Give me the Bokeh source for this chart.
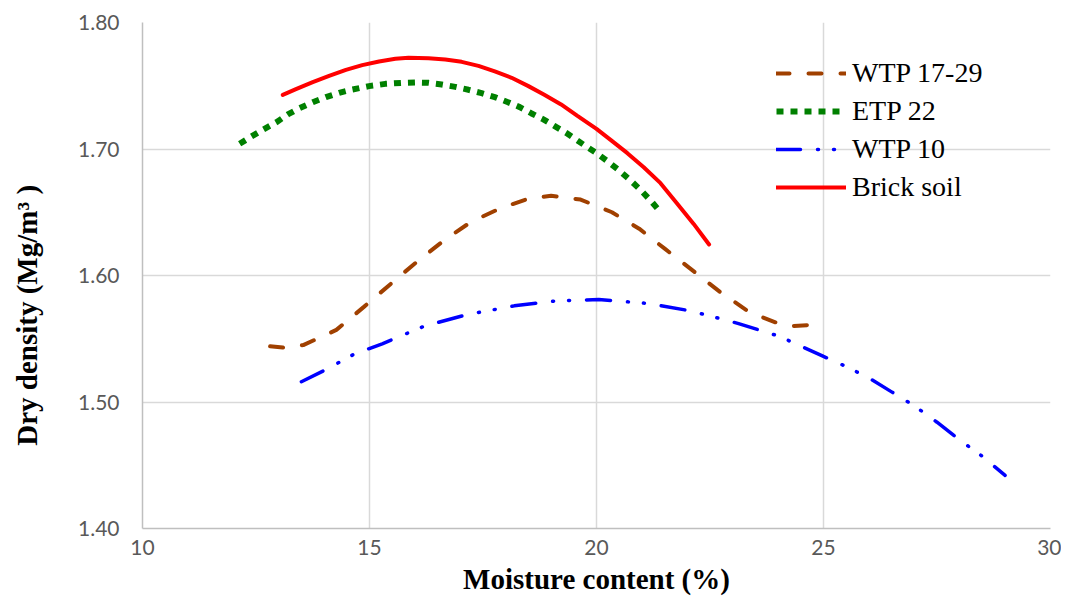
from bokeh.plotting import figure
from bokeh.models import (Legend, LegendItem, FixedTicker, Range1d,
                          PrintfTickFormatter)
from bokeh.embed import file_html
from bokeh.resources import INLINE

# ---- data ----
series_names = ["WTP 17-29", "ETP 22", "WTP 10", "Brick soil"]

moisture_wtp1729 = [12.81, 13.09, 13.54, 14.27, 14.87, 15.52, 16.05, 16.65, 17.22,
                    17.87, 18.52, 19.0, 19.65, 20.34, 20.94, 21.51, 22.08, 22.72,
                    23.37, 23.94, 24.3, 24.75]
density_wtp1729 = [1.544, 1.543, 1.545, 1.557, 1.575, 1.595, 1.611, 1.628, 1.642,
                   1.653, 1.661, 1.663, 1.660, 1.650, 1.637, 1.621, 1.605, 1.587,
                   1.571, 1.563, 1.560, 1.561]

moisture_etp22 = [12.14, 12.40, 12.65, 12.95, 13.20, 13.46, 13.75, 14.04, 14.33,
                  14.62, 14.99, 15.35, 15.72, 16.01, 16.30, 16.59, 16.89, 17.18,
                  17.47, 17.76, 18.05, 18.31, 18.56, 18.82, 19.07, 19.33, 19.58,
                  19.80, 20.00, 20.24, 20.50, 20.75, 20.97, 21.19, 21.41]
density_etp22 = [1.7041, 1.7099, 1.7152, 1.7212, 1.7273, 1.7323, 1.7370, 1.7410,
                 1.7444, 1.7470, 1.7497, 1.7515, 1.7523, 1.7526, 1.7523, 1.7510,
                 1.7491, 1.7468, 1.7441, 1.7410, 1.7370, 1.7331, 1.7283, 1.7236,
                 1.7183, 1.7128, 1.7067, 1.7014, 1.6967, 1.6904, 1.6830, 1.6751,
                 1.6677, 1.6593, 1.6501]

moisture_wtp10 = [13.50, 14.06, 14.67, 15.28, 16.21, 17.14, 18.19, 19.12, 20.05,
                  21.11, 22.08, 23.13, 24.02, 25.0, 25.5, 26.0, 26.5, 27.0, 27.5,
                  28.0, 28.5, 29.0]
density_wtp10 = [1.516, 1.526, 1.538, 1.546, 1.560, 1.569, 1.576, 1.580, 1.581,
                 1.578, 1.572, 1.562, 1.552, 1.536, 1.528, 1.519, 1.508, 1.497,
                 1.484, 1.470, 1.457, 1.442]

moisture_brick = [13.09, 13.38, 13.75, 14.11, 14.48, 14.84, 15.21, 15.57, 15.86,
                  16.30, 16.67, 17.03, 17.40, 17.76, 18.13, 18.49, 18.85, 19.22,
                  19.58, 20.00, 20.31, 20.68, 21.04, 21.41, 21.77, 22.14, 22.48]
density_brick = [1.7428, 1.7473, 1.7528, 1.7578, 1.7626, 1.7663, 1.7692, 1.7713,
                 1.7721, 1.7718, 1.7708, 1.7689, 1.7657, 1.7613, 1.7563, 1.7499,
                 1.7428, 1.7352, 1.7262, 1.7159, 1.7072, 1.6967, 1.6856, 1.6730,
                 1.6572, 1.6408, 1.6245]

x_ticks = [10, 15, 20, 25, 30]
y_ticks = [1.40, 1.50, 1.60, 1.70, 1.80]

x_title = "Moisture content (%)"
y_title = "Dry density (Mg/m³ )"

# ---- figure ----
p = figure(width=1061, height=597, output_backend="svg", toolbar_location=None,
           x_range=Range1d(10, 30), y_range=Range1d(1.40, 1.80),
           min_border_left=142, min_border_right=11, min_border_top=22,
           min_border_bottom=69)
p.outline_line_color = None
p.background_fill_color = "white"
p.border_fill_color = "white"

p.xaxis.ticker = FixedTicker(ticks=x_ticks)
p.yaxis.ticker = FixedTicker(ticks=y_ticks)
p.yaxis.formatter = PrintfTickFormatter(format="%.2f")

for ax in (p.xaxis[0], p.yaxis[0]):
    ax.axis_line_color = "#BFBFBF"
    ax.axis_line_width = 1.5
    ax.major_tick_line_color = None
    ax.minor_tick_line_color = None
    ax.major_tick_out = 0
    ax.major_tick_in = 0
    ax.minor_tick_out = 0
    ax.minor_tick_in = 0
    ax.major_label_text_font = "Lato"
    ax.major_label_text_font_size = "21px"
    ax.major_label_text_color = "#595959"
    ax.axis_label_text_font = "Liberation Serif"
    ax.axis_label_text_font_style = "bold"
    ax.axis_label_text_font_size = "29px"
    ax.axis_label_text_color = "black"

p.yaxis.major_label_standoff = 23
p.xaxis.major_label_standoff = 11

p.xaxis.axis_label = x_title
p.xaxis.axis_label_standoff = 5

# trailing no-break spaces shift the visible title down along the axis,
# as in the reference where it sits below the frame's middle
p.yaxis.axis_label = y_title + "\u00a0" * 11
p.yaxis.axis_label_standoff = 32

p.grid.grid_line_color = "#D9D9D9"
p.grid.grid_line_width = 1.5

r1 = p.line(moisture_wtp1729, density_wtp1729, line_color="#A04000", line_width=4,
            line_dash="13 19", line_cap="round")
r2 = p.line(moisture_etp22, density_etp22, line_color="#008000", line_width=6,
            line_dash="7 7", line_cap="butt")
r3 = p.line(moisture_wtp10, density_wtp10, line_color="#0000FF", line_width=3.5,
            line_dash="24 17 1 15 1 17", line_cap="round")
r4 = p.line(moisture_brick, density_brick, line_color="#FF0000", line_width=4,
            line_cap="round")

legend = Legend(items=[LegendItem(label=n, renderers=[r])
                       for n, r in zip(series_names, [r1, r2, r3, r4])],
                location=(634, 322))
legend.glyph_width = 70
legend.glyph_height = 38
legend.label_height = 38
legend.label_standoff = 6
legend.spacing = 0
legend.padding = 0
legend.margin = 0
legend.background_fill_alpha = 0
legend.border_line_color = None
legend.label_text_font = "Liberation Serif"
legend.label_text_font_size = "28px"
legend.label_text_color = "black"
p.add_layout(legend)

open("out.html", "w").write(file_html(p, INLINE))
